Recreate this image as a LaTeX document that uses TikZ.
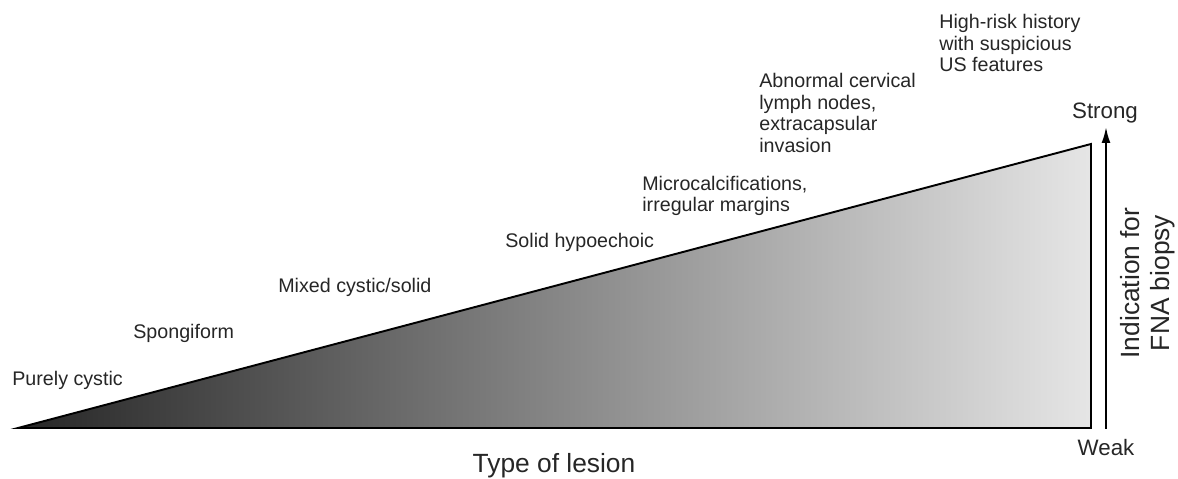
\documentclass[tikz,border=0pt]{standalone}
\usepackage{fontspec}
\setmainfont{Liberation Sans}
\usetikzlibrary{positioning,calc,arrows.meta}

\begin{document}
\begin{tikzpicture}[x=0.02cm,y=0.02cm]
\tikzset{lbl/.style={anchor=west,align=left,inner sep=0pt,text=black!85,font=\fontsize{11.2}{12.4}\selectfont},
	ends/.style={inner sep=0pt,text=black!85,font=\fontsize{12.7}{14}\selectfont},
	big/.style={inner sep=0pt,text=black!85,font=\fontsize{15}{17}\selectfont}}

\useasboundingbox (0,0) rectangle (1178,479);

\coordinate(A) at (18,51);
\coordinate(B) at (1091,51);
\coordinate(C) at (1091,335);
\coordinate(W) at (1106,50);
\coordinate(S) at (1106,352);

% wedge
\shade[left color=black!85,middle color=black!32,right color=black!10](A)--(B)--(C)--cycle;
\draw[line width=1.1pt](A)--(B)--(C)--cycle;

% axis
\draw[-{Latex[length=9pt,width=5pt]},line width=1.1pt](W)--(S);
\node[ends](strong) at (1105,366) {Strong};
\node[ends](weak) at (1106,31) {Weak};
\node[big,rotate=90,align=center](ind) at (1148,196) {Indication for\\FNA biopsy};
\node[big](type) at (554,13) {Type of lesion};

\foreach \n/\x/\y/\t in {pc/12/99/{Purely cystic},sp/133/146/{Spongiform},mx/278/192/{Mixed cystic/solid},
	sh/505/237/{Solid hypoechoic},mc/642/283/{Microcalcifications,\\irregular margins},
	ab/759/366/{Abnormal cervical\\lymph nodes,\\extracapsular\\invasion},
	hr/939/436/{High-risk history\\with suspicious\\US features}}
	\node[lbl](\n) at (\x,\y) {\t};

\end{tikzpicture}
\end{document}
